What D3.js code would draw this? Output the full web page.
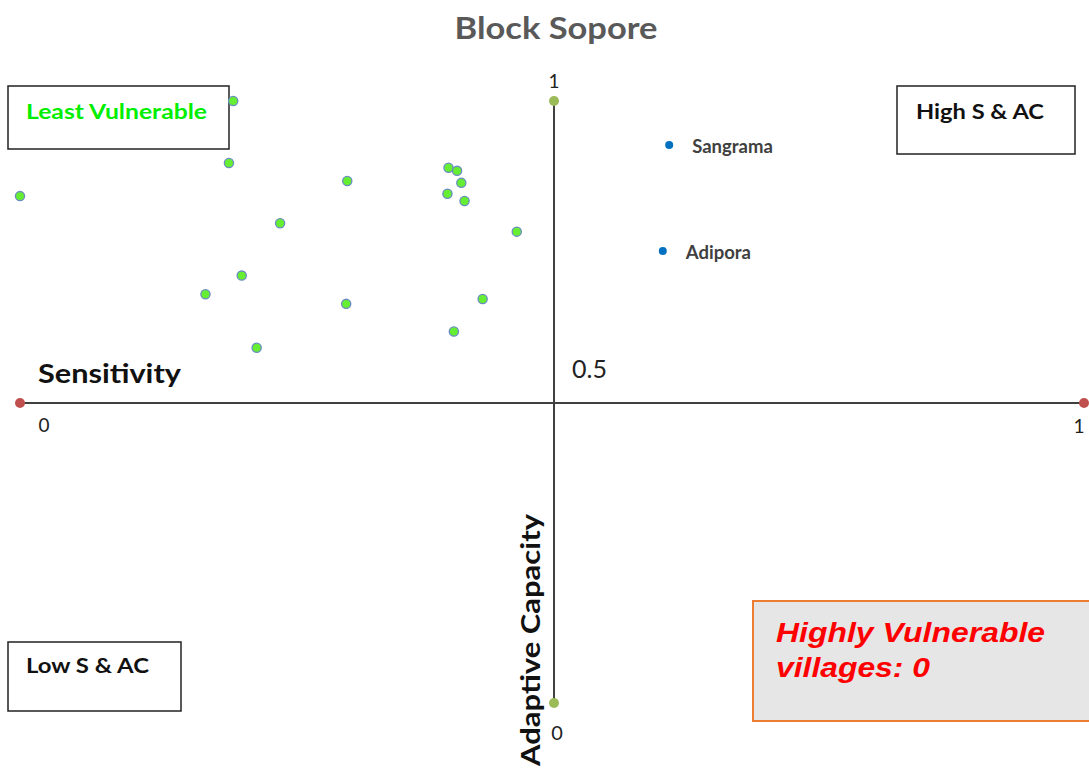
<!DOCTYPE html>
<html>
<head>
<meta charset="utf-8">
<script src="https://cdn.jsdelivr.net/npm/d3@7"></script>
<style>
  html, body { margin: 0; padding: 0; background: #fff; }
  svg { display: block; }
</style>
</head>
<body>
<script>
// ---- Data ----
const title = "Block Sopore";
const xAxisTitle = "Sensitivity";
const yAxisTitle = "Adaptive Capacity";
// unlabeled (green) villages: sensitivity, adaptive capacity
const greenSensitivity = [0.200, 0.196, 0.000, 0.307, 0.402, 0.410, 0.414, 0.401, 0.417, 0.466, 0.244, 0.208, 0.174, 0.306, 0.434, 0.407, 0.222];
const greenAdaptive    = [1.000, 0.897, 0.842, 0.867, 0.889, 0.884, 0.864, 0.846, 0.834, 0.783, 0.797, 0.710, 0.679, 0.663, 0.671, 0.617, 0.590];
// labeled (blue) villages
const blueNames       = ["Sangrama", "Adipora"];
const blueSensitivity = [0.609, 0.603];
const blueAdaptive    = [0.927, 0.751];
const quadrantLabels  = ["Least Vulnerable", "High S & AC", "Low S & AC"];
const noteLines       = ["Highly Vulnerable", "villages: 0"];
const xTickLabels     = ["0", "1"];
const yTickLabels     = ["0", "1"];
const centerLabel     = "0.5";

// ---- Layout ----
const W = 1089, H = 771;
const svg = d3.select("body").append("svg").attr("width", W).attr("height", H);
const x = d3.scaleLinear().domain([0, 1]).range([20, 1086]);
const y = d3.scaleLinear().domain([0, 1]).range([703, 101]);
const font = "Lato, 'Open Sans', sans-serif";

// Title
svg.append("text").attr("x", 556).attr("y", 39).attr("text-anchor", "middle")
  .attr("font-family", font).attr("font-weight", "bold").attr("font-size", 31)
  .attr("fill", "#595959").attr("textLength", 203).attr("lengthAdjust", "spacingAndGlyphs")
  .text(title);

// Axes
svg.append("line").attr("x1", x(0)).attr("x2", x(1)).attr("y1", y(0.5) + 1).attr("y2", y(0.5) + 1)
  .attr("stroke", "#404040").attr("stroke-width", 2);
svg.append("line").attr("x1", x(0.5) + 1).attr("x2", x(0.5) + 1).attr("y1", y(1)).attr("y2", y(0))
  .attr("stroke", "#404040").attr("stroke-width", 2);

// axis end markers
svg.selectAll("circle.xend").data([0, 1]).join("circle").attr("class", "xend")
  .attr("cx", d => x(d) - (d ? 2 : 0)).attr("cy", y(0.5) + 1).attr("r", 5).attr("fill", "#c0504d");
svg.selectAll("circle.yend").data([0, 1]).join("circle").attr("class", "yend")
  .attr("cx", x(0.5) + 1).attr("cy", d => y(d)).attr("r", 5).attr("fill", "#9bbb59");

// tick labels
svg.append("text").attr("x", x(0) + 24).attr("y", 432).attr("text-anchor", "middle")
  .attr("font-family", font).attr("font-size", 19).attr("fill", "#222").text(xTickLabels[0]);
svg.append("text").attr("x", x(1) - 7).attr("y", 433).attr("text-anchor", "middle")
  .attr("font-family", font).attr("font-size", 19).attr("fill", "#222").text(xTickLabels[1]);
svg.append("text").attr("x", x(0.5) + 4).attr("y", 740).attr("text-anchor", "middle")
  .attr("font-family", font).attr("font-size", 20).attr("fill", "#222").text(yTickLabels[0]);
svg.append("text").attr("x", x(0.5) + 1).attr("y", 88).attr("text-anchor", "middle")
  .attr("font-family", font).attr("font-size", 19).attr("fill", "#222").text(yTickLabels[1]);
svg.append("text").attr("x", 572).attr("y", 378)
  .attr("font-family", font).attr("font-size", 25).attr("fill", "#222").text(centerLabel);

// axis titles
svg.append("text").attr("x", 38).attr("y", 383)
  .attr("font-family", font).attr("font-weight", "bold").attr("font-size", 26).attr("fill", "#111")
  .attr("textLength", 143).attr("lengthAdjust", "spacingAndGlyphs").text(xAxisTitle);
svg.append("text").attr("transform", "translate(540,640) rotate(-90)").attr("text-anchor", "middle")
  .attr("font-family", font).attr("font-weight", "bold").attr("font-size", 27).attr("fill", "#111")
  .attr("textLength", 252).attr("lengthAdjust", "spacingAndGlyphs").text(yAxisTitle);

// Quadrant boxes
const boxes = [
  {x: 8, y: 86, w: 221, h: 63, tx: 26, ty: 119, tw: 181, color: "#00ee00"},
  {x: 897, y: 86, w: 178, h: 68, tx: 916, ty: 119, tw: 128, color: "#111"},
  {x: 8, y: 642, w: 173, h: 69, tx: 26, ty: 673, tw: 123, color: "#111"}
];
boxes.forEach((b, i) => {
  svg.append("rect").attr("x", b.x).attr("y", b.y).attr("width", b.w).attr("height", b.h)
    .attr("fill", "#fff").attr("stroke", "#222").attr("stroke-width", 1.5);
  svg.append("text").attr("x", b.tx).attr("y", b.ty)
    .attr("font-family", font).attr("font-weight", "bold").attr("font-size", 20).attr("fill", b.color)
    .attr("textLength", b.tw).attr("lengthAdjust", "spacingAndGlyphs").text(quadrantLabels[i]);
});

// Note box
svg.append("rect").attr("x", 753).attr("y", 601).attr("width", 345).attr("height", 120)
  .attr("fill", "#e6e6e6").attr("stroke", "#ed7d31").attr("stroke-width", 2);
svg.append("text").attr("x", 776).attr("y", 642)
  .attr("font-family", "'Liberation Sans', Arial, sans-serif").attr("font-weight", "bold").attr("font-style", "italic")
  .attr("font-size", 27).attr("fill", "#ff0000").attr("textLength", 269).attr("lengthAdjust", "spacingAndGlyphs")
  .text(noteLines[0]);
svg.append("text").attr("x", 776).attr("y", 677)
  .attr("font-family", "'Liberation Sans', Arial, sans-serif").attr("font-weight", "bold").attr("font-style", "italic")
  .attr("font-size", 27).attr("fill", "#ff0000").attr("textLength", 154).attr("lengthAdjust", "spacingAndGlyphs")
  .text(noteLines[1]);

// Green points (draw after box so the top one overlaps box edge)
const green = greenSensitivity.map((s, i) => ({s, a: greenAdaptive[i]}));
svg.selectAll("circle.g").data(green).join("circle").attr("class", "g")
  .attr("cx", d => x(d.s)).attr("cy", d => y(d.a)).attr("r", 4.6)
  .attr("fill", "#66ee33").attr("stroke", "#6a8cc0").attr("stroke-width", 1.3);

// Blue labeled points
const blue = blueNames.map((n, i) => ({n, s: blueSensitivity[i], a: blueAdaptive[i]}));
svg.selectAll("circle.b").data(blue).join("circle").attr("class", "b")
  .attr("cx", d => x(d.s)).attr("cy", d => y(d.a)).attr("r", 4)
  .attr("fill", "#0070c0");
svg.selectAll("text.b").data(blue).join("text").attr("class", "b")
  .attr("x", d => x(d.s) + 23).attr("y", d => y(d.a) + 8)
  .attr("font-family", font).attr("font-weight", "bold").attr("font-size", 18.5).attr("fill", "#404040")
  .text(d => d.n);
</script>
</body>
</html>
